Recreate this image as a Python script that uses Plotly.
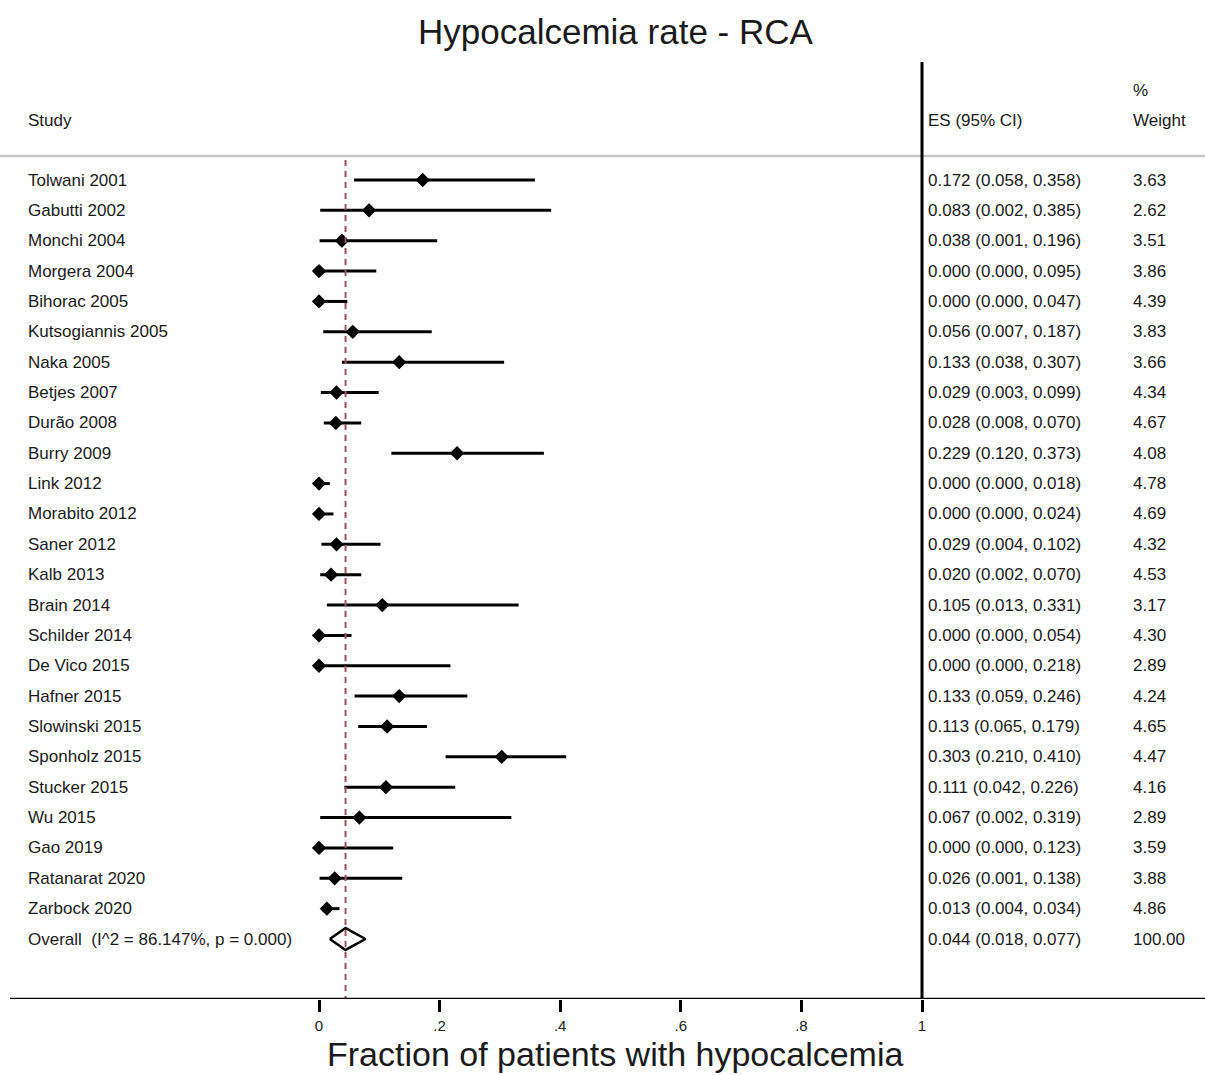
import plotly.graph_objects as go

studies = ["Tolwani 2001", "Gabutti 2002", "Monchi 2004", "Morgera 2004", "Bihorac 2005",
           "Kutsogiannis 2005", "Naka 2005", "Betjes 2007", "Durão 2008", "Burry 2009",
           "Link 2012", "Morabito 2012", "Saner 2012", "Kalb 2013", "Brain 2014",
           "Schilder 2014", "De Vico 2015", "Hafner 2015", "Slowinski 2015", "Sponholz 2015",
           "Stucker 2015", "Wu 2015", "Gao 2019", "Ratanarat 2020", "Zarbock 2020"]
es = [0.172, 0.083, 0.038, 0.000, 0.000, 0.056, 0.133, 0.029, 0.028, 0.229,
      0.000, 0.000, 0.029, 0.020, 0.105, 0.000, 0.000, 0.133, 0.113, 0.303,
      0.111, 0.067, 0.000, 0.026, 0.013]
lo = [0.058, 0.002, 0.001, 0.000, 0.000, 0.007, 0.038, 0.003, 0.008, 0.120,
      0.000, 0.000, 0.004, 0.002, 0.013, 0.000, 0.000, 0.059, 0.065, 0.210,
      0.042, 0.002, 0.000, 0.001, 0.004]
hi = [0.358, 0.385, 0.196, 0.095, 0.047, 0.187, 0.307, 0.099, 0.070, 0.373,
      0.018, 0.024, 0.102, 0.070, 0.331, 0.054, 0.218, 0.246, 0.179, 0.410,
      0.226, 0.319, 0.123, 0.138, 0.034]
weights = [3.63, 2.62, 3.51, 3.86, 4.39, 3.83, 3.66, 4.34, 4.67, 4.08,
           4.78, 4.69, 4.32, 4.53, 3.17, 4.30, 2.89, 4.24, 4.65, 4.47,
           4.16, 2.89, 3.59, 3.88, 4.86]
overall_label = "Overall  (I^2 = 86.147%, p = 0.000)"
overall_es, overall_lo, overall_hi, overall_w = 0.044, 0.018, 0.077, 100.00
x_ticks = [0, 0.2, 0.4, 0.6, 0.8, 1]
x_tick_labels = ["0", ".2", ".4", ".6", ".8", "1"]

W, H = 1205, 1075
# pixel geometry
px0, px1 = 319, 922          # x=0 and x=1
row0, rowstep = 180, 30.36   # first row pixel y and spacing
plot_bottom = 999
scale = px1 - px0
xmin = -px0 / scale
xmax = (W - px0) / scale
ytop = row0 / rowstep            # value at pixel 0 (y = -i)
ybot = -(plot_bottom - row0) / rowstep

def xv(p):
    return (p - px0) / scale

def yv(p):
    return -(p - row0) / rowstep

FONT = "Liberation Sans, Arial, sans-serif"
TXT = 17
fig = go.Figure()

n = len(studies)
ys = [-i for i in range(n)]

# CI lines
cx, cy = [], []
for i in range(n):
    cx += [lo[i], hi[i], None]
    cy += [ys[i], ys[i], None]
fig.add_trace(go.Scatter(x=cx, y=cy, mode="lines", line=dict(color="black", width=3),
                         hoverinfo="skip", showlegend=False))
# point estimates
fig.add_trace(go.Scatter(x=es, y=ys, mode="markers",
                         marker=dict(symbol="diamond", size=11, color="black"),
                         showlegend=False))
# overall diamond
oy = -n
dh = 0.36
fig.add_trace(go.Scatter(x=[overall_lo, overall_es, overall_hi, overall_es, overall_lo],
                         y=[oy, oy + dh, oy, oy - dh, oy], mode="lines",
                         line=dict(color="black", width=2.5), showlegend=False))

shapes = []
# dashed overall line
shapes.append(dict(type="line", x0=overall_es, x1=overall_es, y0=yv(160), y1=ybot,
                   xref="x", yref="y", line=dict(color="#a4505e", width=2, dash="6px,5px")))
# grey header line
shapes.append(dict(type="line", x0=xmin, x1=xmax, y0=yv(156), y1=yv(156), xref="x", yref="y",
                   line=dict(color="#c8c8c8", width=2.5)))
# vertical line at 1
shapes.append(dict(type="line", x0=1, x1=1, y0=yv(62), y1=ybot, xref="x", yref="y",
                   line=dict(color="black", width=3)))
# bottom axis line
shapes.append(dict(type="line", x0=xv(10), x1=xmax, y0=ybot, y1=ybot, xref="x", yref="y",
                   line=dict(color="black", width=2.5)))

ann = []
def txt(x, y, s, size=TXT, anchor="left", color="#1a1a1a"):
    ann.append(dict(x=x, y=y, xref="x", yref="y", text=s, showarrow=False, xanchor=anchor,
                    yanchor="middle", font=dict(family=FONT, size=size, color=color)))

tx_study = xv(26)
tx_es = xv(926)
tx_w = xv(1131)
for i in range(n):
    txt(tx_study, ys[i], studies[i])
    txt(tx_es, ys[i], f"{es[i]:.3f} ({lo[i]:.3f}, {hi[i]:.3f})")
    txt(tx_w, ys[i], f"{weights[i]:.2f}")
txt(tx_study, oy, overall_label)
txt(tx_es, oy, f"{overall_es:.3f} ({overall_lo:.3f}, {overall_hi:.3f})")
txt(tx_w, oy, f"{overall_w:.2f}")

txt(tx_study, yv(120), "Study")
txt(tx_es, yv(120), "ES (95% CI)")
txt(tx_w, yv(90), "%")
txt(tx_w, yv(120), "Weight")

ann.append(dict(x=615 / W, y=1 - 32 / plot_bottom, xref="paper", yref="paper",
                text="Hypocalcemia rate - RCA", showarrow=False, xanchor="center",
                yanchor="middle", font=dict(family=FONT, size=35, color="#1a1a1a")))
ann.append(dict(x=615 / W, y=1 - 1074 / plot_bottom, xref="paper", yref="paper",
                text="Fraction of patients with hypocalcemia", showarrow=False,
                xanchor="center", yanchor="bottom", borderpad=0,
                font=dict(family=FONT, size=34, color="#1a1a1a")))

fig.update_layout(
    width=W, height=H, margin=dict(l=0, r=0, t=0, b=H - plot_bottom),
    paper_bgcolor="white", plot_bgcolor="white",
    shapes=shapes, annotations=ann, showlegend=False,
    xaxis=dict(range=[xmin, xmax], tickvals=x_ticks, ticktext=x_tick_labels,
               ticks="outside", ticklen=12, tickwidth=2.5, tickcolor="black",
               ticklabelstandoff=1,
               showgrid=False, zeroline=False, showline=False,
               tickfont=dict(family=FONT, size=15, color="#1a1a1a")),
    yaxis=dict(range=[ybot, ytop], showgrid=False, zeroline=False, showline=False,
               showticklabels=False, ticks=""),
)
fig.write_html("out.html", config={"displayModeBar": False},
               post_script="document.body.style.margin='0';")
